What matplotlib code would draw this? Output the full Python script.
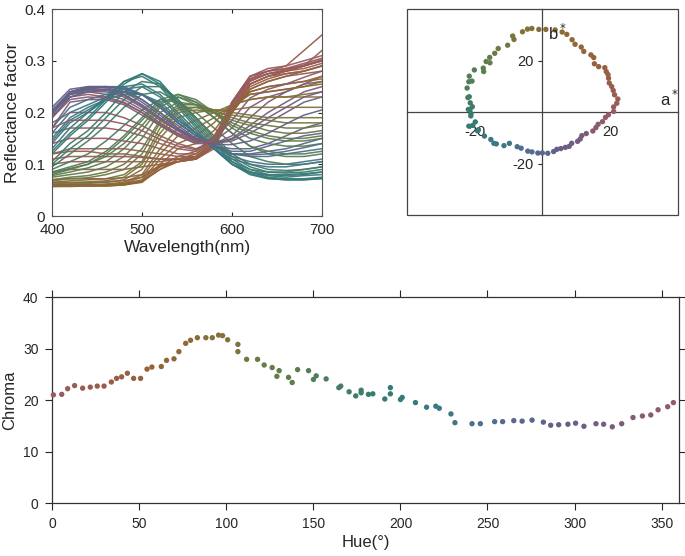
import numpy as np
import matplotlib
matplotlib.use("Agg")
import matplotlib.pyplot as plt
from matplotlib.colors import LinearSegmentedColormap
from matplotlib.patches import Rectangle

plt.rcParams['font.family'] = ['Liberation Sans', 'DejaVu Sans']
plt.rcParams['axes.unicode_minus'] = False

# ---------------- data ----------------
hue = [0.6, 5.4, 8.8, 12.8, 17.4, 21.8, 25.8, 29.7, 33.9, 36.9,
       39.8, 43.1, 46.7, 50.7, 54.4, 57.2, 62.6, 65.6, 69.9, 72.7,
       76.6, 79.4, 83.3, 88.2, 91.9, 95.5, 97.8, 100.7, 106.6, 106.6,
       111.6, 117.9, 121.7, 126.3, 130.3, 129.0, 135.7, 137.8, 140.9, 147.2,
       150.0, 151.6, 157.3, 164.6, 165.7, 170.5,
       174.3, 177.4, 177.4, 181.6, 184.1, 191.0, 194.2, 194.2, 200.0, 201.0,
       208.6, 215.0, 220.3, 222.3, 229.0, 231.3, 241.1, 245.9, 254.1, 258.7,
       265.1, 269.9, 275.6, 282.1, 286.3, 290.9, 296.2, 300.6, 305.4, 312.3,
       316.7, 321.7, 327.1, 333.6, 339.0, 343.8, 348.0, 353.5, 356.8]
chroma = [21.0, 21.1, 22.2, 22.8, 22.3, 22.5, 22.7, 22.7, 23.5, 24.2,
          24.5, 25.2, 24.2, 24.2, 26.0, 26.4, 26.5, 27.7, 28.0, 29.4,
          31.0, 31.6, 32.1, 32.1, 32.1, 32.6, 32.5, 31.7, 30.8, 29.4,
          27.9, 27.9, 26.8, 26.3, 25.7, 24.6, 24.4, 23.4, 25.9, 25.7,
          24.0, 24.7, 24.1, 22.4, 22.7, 21.6,
          20.8, 21.9, 21.4, 21.1, 21.2, 20.2, 22.4, 21.2, 20.1, 20.5,
          19.5, 18.6, 18.8, 18.4, 17.3, 15.6, 15.4, 15.4, 15.8, 15.8,
          16.0, 15.9, 16.1, 15.7, 15.1, 15.2, 15.3, 15.5, 14.9, 15.4,
          15.3, 14.8, 15.4, 16.6, 16.9, 17.1, 18.1, 18.7, 19.5]

wavelength = [400, 420, 440, 460, 480, 500, 520, 540, 560, 580, 600, 620, 640, 660, 680, 700]

spec_hue = [2, 8, 15, 22, 28,
            345, 352, 335,
            300, 315, 325, 285,
            250, 265, 240, 275,
            225, 210, 200, 190, 180, 170,
            160, 150, 140, 130, 120,
            110, 100, 92,
            80, 65, 50, 40,
            5, 12, 35, 58, 72, 86, 105, 115, 135, 145,
            175, 195, 215, 232, 258, 292, 308, 340, 356]
spectra = [
    [0.16, 0.17, 0.17, 0.17, 0.165, 0.155, 0.14, 0.13, 0.125, 0.15, 0.22, 0.27, 0.285, 0.29, 0.30, 0.31],
    [0.12, 0.13, 0.13, 0.13, 0.13, 0.125, 0.12, 0.115, 0.115, 0.14, 0.22, 0.27, 0.28, 0.285, 0.29, 0.30],
    [0.10, 0.105, 0.105, 0.105, 0.105, 0.105, 0.105, 0.11, 0.11, 0.135, 0.21, 0.26, 0.275, 0.28, 0.29, 0.32],
    [0.085, 0.09, 0.09, 0.09, 0.09, 0.095, 0.10, 0.105, 0.11, 0.13, 0.20, 0.255, 0.27, 0.275, 0.28, 0.29],
    [0.12, 0.125, 0.125, 0.12, 0.12, 0.115, 0.11, 0.11, 0.115, 0.145, 0.22, 0.265, 0.28, 0.29, 0.32, 0.35],
    [0.20, 0.23, 0.235, 0.23, 0.22, 0.20, 0.175, 0.155, 0.14, 0.15, 0.20, 0.245, 0.26, 0.27, 0.28, 0.29],
    [0.18, 0.20, 0.20, 0.20, 0.19, 0.175, 0.155, 0.14, 0.13, 0.145, 0.21, 0.255, 0.27, 0.28, 0.29, 0.30],
    [0.20, 0.235, 0.24, 0.235, 0.225, 0.205, 0.18, 0.16, 0.145, 0.145, 0.17, 0.21, 0.23, 0.24, 0.255, 0.27],
    [0.20, 0.24, 0.245, 0.245, 0.235, 0.215, 0.19, 0.165, 0.145, 0.14, 0.145, 0.16, 0.18, 0.20, 0.22, 0.23],
    [0.19, 0.23, 0.24, 0.24, 0.23, 0.21, 0.185, 0.165, 0.15, 0.14, 0.15, 0.175, 0.20, 0.22, 0.24, 0.25],
    [0.17, 0.22, 0.225, 0.225, 0.215, 0.195, 0.175, 0.155, 0.14, 0.14, 0.155, 0.19, 0.22, 0.24, 0.255, 0.26],
    [0.21, 0.245, 0.25, 0.25, 0.245, 0.225, 0.20, 0.17, 0.15, 0.135, 0.13, 0.13, 0.14, 0.155, 0.17, 0.18],
    [0.20, 0.235, 0.245, 0.25, 0.245, 0.235, 0.21, 0.18, 0.155, 0.135, 0.12, 0.115, 0.115, 0.12, 0.125, 0.13],
    [0.20, 0.24, 0.25, 0.25, 0.25, 0.235, 0.21, 0.18, 0.155, 0.135, 0.12, 0.12, 0.125, 0.13, 0.14, 0.15],
    [0.17, 0.21, 0.225, 0.235, 0.24, 0.235, 0.215, 0.185, 0.16, 0.135, 0.115, 0.105, 0.10, 0.10, 0.105, 0.11],
    [0.19, 0.23, 0.24, 0.245, 0.24, 0.225, 0.20, 0.175, 0.15, 0.135, 0.125, 0.125, 0.135, 0.145, 0.155, 0.16],
    [0.15, 0.19, 0.21, 0.225, 0.235, 0.235, 0.22, 0.19, 0.16, 0.13, 0.105, 0.09, 0.085, 0.085, 0.09, 0.095],
    [0.14, 0.18, 0.20, 0.225, 0.25, 0.255, 0.235, 0.20, 0.165, 0.13, 0.10, 0.085, 0.078, 0.075, 0.078, 0.08],
    [0.13, 0.17, 0.20, 0.23, 0.26, 0.27, 0.25, 0.21, 0.17, 0.13, 0.10, 0.08, 0.072, 0.07, 0.07, 0.072],
    [0.12, 0.155, 0.185, 0.22, 0.255, 0.275, 0.26, 0.22, 0.18, 0.14, 0.105, 0.085, 0.075, 0.072, 0.072, 0.075],
    [0.105, 0.14, 0.165, 0.20, 0.24, 0.26, 0.255, 0.225, 0.185, 0.145, 0.11, 0.09, 0.08, 0.078, 0.08, 0.085],
    [0.095, 0.12, 0.145, 0.175, 0.21, 0.235, 0.24, 0.22, 0.19, 0.155, 0.12, 0.10, 0.09, 0.088, 0.09, 0.095],
    [0.09, 0.105, 0.12, 0.145, 0.175, 0.205, 0.225, 0.22, 0.20, 0.17, 0.14, 0.115, 0.105, 0.10, 0.10, 0.105],
    [0.085, 0.095, 0.105, 0.125, 0.155, 0.19, 0.225, 0.235, 0.22, 0.19, 0.16, 0.135, 0.12, 0.115, 0.115, 0.12],
    [0.08, 0.09, 0.10, 0.115, 0.14, 0.175, 0.215, 0.235, 0.225, 0.20, 0.17, 0.15, 0.14, 0.135, 0.135, 0.14],
    [0.075, 0.08, 0.085, 0.095, 0.115, 0.15, 0.20, 0.22, 0.215, 0.20, 0.18, 0.165, 0.155, 0.15, 0.15, 0.155],
    [0.07, 0.075, 0.078, 0.085, 0.10, 0.13, 0.185, 0.215, 0.215, 0.205, 0.19, 0.18, 0.175, 0.17, 0.17, 0.175],
    [0.065, 0.068, 0.07, 0.072, 0.08, 0.105, 0.17, 0.205, 0.21, 0.205, 0.20, 0.195, 0.19, 0.19, 0.19, 0.19],
    [0.06, 0.062, 0.063, 0.065, 0.07, 0.09, 0.15, 0.19, 0.20, 0.205, 0.205, 0.21, 0.21, 0.21, 0.21, 0.21],
    [0.058, 0.06, 0.06, 0.062, 0.065, 0.08, 0.13, 0.17, 0.185, 0.20, 0.215, 0.225, 0.23, 0.23, 0.23, 0.23],
    [0.058, 0.058, 0.06, 0.06, 0.062, 0.07, 0.11, 0.14, 0.155, 0.18, 0.215, 0.235, 0.24, 0.245, 0.25, 0.26],
    [0.058, 0.058, 0.058, 0.058, 0.06, 0.065, 0.095, 0.115, 0.125, 0.155, 0.21, 0.24, 0.25, 0.255, 0.26, 0.27],
    [0.06, 0.06, 0.06, 0.06, 0.062, 0.068, 0.09, 0.105, 0.115, 0.14, 0.20, 0.245, 0.26, 0.27, 0.275, 0.28],
    [0.065, 0.065, 0.065, 0.066, 0.068, 0.075, 0.095, 0.105, 0.11, 0.135, 0.20, 0.25, 0.265, 0.275, 0.28, 0.29],
    [0.14, 0.15, 0.15, 0.15, 0.145, 0.14, 0.13, 0.12, 0.12, 0.145, 0.22, 0.27, 0.28, 0.285, 0.295, 0.305],
    [0.11, 0.115, 0.115, 0.115, 0.115, 0.113, 0.11, 0.11, 0.112, 0.138, 0.215, 0.265, 0.275, 0.28, 0.285, 0.295],
    [0.07, 0.072, 0.072, 0.072, 0.074, 0.08, 0.097, 0.105, 0.11, 0.135, 0.205, 0.255, 0.27, 0.28, 0.29, 0.30],
    [0.06, 0.06, 0.06, 0.06, 0.061, 0.066, 0.09, 0.11, 0.12, 0.15, 0.205, 0.24, 0.25, 0.255, 0.26, 0.265],
    [0.057, 0.057, 0.058, 0.058, 0.06, 0.068, 0.10, 0.13, 0.14, 0.165, 0.21, 0.235, 0.24, 0.245, 0.25, 0.255],
    [0.057, 0.058, 0.058, 0.06, 0.063, 0.075, 0.12, 0.155, 0.17, 0.19, 0.215, 0.225, 0.23, 0.23, 0.235, 0.24],
    [0.062, 0.064, 0.066, 0.068, 0.075, 0.10, 0.16, 0.20, 0.205, 0.20, 0.195, 0.19, 0.185, 0.18, 0.18, 0.18],
    [0.068, 0.072, 0.074, 0.08, 0.09, 0.12, 0.18, 0.21, 0.21, 0.20, 0.185, 0.175, 0.165, 0.16, 0.16, 0.165],
    [0.078, 0.085, 0.093, 0.105, 0.13, 0.165, 0.21, 0.23, 0.22, 0.20, 0.175, 0.16, 0.15, 0.145, 0.145, 0.15],
    [0.083, 0.092, 0.10, 0.12, 0.15, 0.185, 0.22, 0.23, 0.215, 0.19, 0.16, 0.135, 0.125, 0.12, 0.12, 0.125],
    [0.10, 0.13, 0.155, 0.19, 0.225, 0.25, 0.25, 0.225, 0.19, 0.15, 0.115, 0.095, 0.085, 0.083, 0.085, 0.09],
    [0.125, 0.16, 0.19, 0.225, 0.26, 0.275, 0.255, 0.215, 0.175, 0.135, 0.10, 0.082, 0.073, 0.07, 0.07, 0.073],
    [0.145, 0.185, 0.205, 0.225, 0.245, 0.25, 0.23, 0.195, 0.16, 0.13, 0.10, 0.085, 0.08, 0.08, 0.082, 0.085],
    [0.16, 0.20, 0.215, 0.23, 0.24, 0.235, 0.215, 0.185, 0.16, 0.13, 0.11, 0.10, 0.095, 0.095, 0.10, 0.105],
    [0.20, 0.237, 0.247, 0.25, 0.247, 0.235, 0.21, 0.18, 0.155, 0.135, 0.12, 0.118, 0.12, 0.125, 0.132, 0.14],
    [0.205, 0.24, 0.248, 0.248, 0.24, 0.22, 0.195, 0.168, 0.148, 0.138, 0.138, 0.145, 0.16, 0.178, 0.195, 0.205],
    [0.195, 0.235, 0.243, 0.243, 0.233, 0.213, 0.188, 0.165, 0.148, 0.14, 0.148, 0.168, 0.19, 0.21, 0.23, 0.24],
    [0.19, 0.225, 0.23, 0.228, 0.218, 0.20, 0.178, 0.158, 0.143, 0.148, 0.185, 0.228, 0.245, 0.255, 0.268, 0.28],
    [0.17, 0.185, 0.185, 0.185, 0.178, 0.165, 0.148, 0.135, 0.128, 0.148, 0.215, 0.262, 0.275, 0.283, 0.292, 0.302],
]

# hue -> colour
hue_anchor = [0, 40, 80, 100, 120, 150, 190, 220, 250, 290, 330, 360]
hue_colors = ['#9a5a62', '#985f40', '#8c6a35', '#80733a', '#6a7b45', '#527e58',
              '#337b72', '#3a7a85', '#4f6e8e', '#675f88', '#7e5c7a', '#9a5a62']
cmap = LinearSegmentedColormap.from_list(
    'huemap', list(zip([h / 360 for h in hue_anchor], hue_colors)))

def hcol(h):
    return cmap((h % 360) / 360)

# ---------------- figure ----------------
fig = plt.figure(figsize=(6.85, 5.56), dpi=100)
dark = '#262626'

# Top-left: spectra
ax1 = fig.add_axes([0.0759, 0.6115, 0.3942, 0.3723])
for h, r in zip(spec_hue, spectra):
    ax1.plot(wavelength, r, color=hcol(h), lw=1.1, alpha=0.95)
ax1.set_xlim(400, 700)
ax1.set_ylim(0, 0.4)
ax1.set_xticks([400, 500, 600, 700])
ax1.set_yticks([0, 0.1, 0.2, 0.3, 0.4])
ax1.set_yticklabels(['0', '0.1', '0.2', '0.3', '0.4'])
ax1.tick_params(direction='in', length=3, labelsize=11, colors=dark, pad=5,
                top=True, right=True)
for s in ax1.spines.values():
    s.set_color('#555555')
    s.set_linewidth(0.8)
ax1.set_xlabel('Wavelength(nm)', fontsize=12.5, color=dark, labelpad=2)
ax1.set_ylabel('Reflectance factor', fontsize=12.5, color=dark, labelpad=3)

# Top-right: a*b* plane
ax2 = fig.add_axes([0.594, 0.6133, 0.3958, 0.3705])
hr = np.deg2rad(hue)
a_star = np.array(chroma) * np.cos(hr)
b_star = np.array(chroma) * np.sin(hr)
ax2.scatter(a_star, b_star, s=15, c=[hcol(h) for h in hue], linewidths=0, zorder=3)
ax2.set_xlim(-40, 40)
ax2.set_ylim(-40, 40)
ax2.spines['left'].set_position(('data', 0))
ax2.spines['bottom'].set_position(('data', 0))
for s in ['top', 'right']:
    ax2.spines[s].set_visible(False)
for s in ['left', 'bottom']:
    ax2.spines[s].set_color('#444444')
    ax2.spines[s].set_linewidth(0.9)
ax2.add_patch(Rectangle((0, 0), 1, 1, transform=ax2.transAxes, fill=False,
                        edgecolor='#444444', lw=0.9, clip_on=False))
ax2.set_xticks([-20, 20])
ax2.set_yticks([-20, 20])
ax2.tick_params(axis='x', length=0, pad=9, labelsize=10.5, colors=dark)
ax2.tick_params(axis='y', direction='out', length=3, pad=3, labelsize=10.5, colors=dark)
ax2.text(0.52, 0.885, r'b$^*$', transform=ax2.transAxes, fontsize=12, color=dark,
         ha='left', va='center')
ax2.text(0.935, 0.565, r'a$^*$', transform=ax2.transAxes, fontsize=12, color=dark,
         ha='left', va='center')

# Bottom: chroma vs hue
ax3 = fig.add_axes([0.0764, 0.0953, 0.9148, 0.3705])
ax3.scatter(hue, chroma, s=15, c=[hcol(h) for h in hue], linewidths=0, zorder=3,
            clip_on=False)
ax3.set_xlim(0, 360)
ax3.set_ylim(0, 40)
ax3.set_xticks([0, 50, 100, 150, 200, 250, 300, 350])
ax3.set_yticks([0, 10, 20, 30, 40])
ax3.tick_params(direction='out', length=5, labelsize=10, colors=dark, pad=5,
                top=True, right=True, labeltop=False, labelright=False)
for s in ax3.spines.values():
    s.set_color('#333333')
    s.set_linewidth(0.9)
ax3.set_xlabel('Hue(°)', fontsize=12, color=dark, labelpad=3)
ax3.set_ylabel('Chroma', fontsize=12, color=dark, labelpad=4)

fig.savefig('out.png', dpi=100)
